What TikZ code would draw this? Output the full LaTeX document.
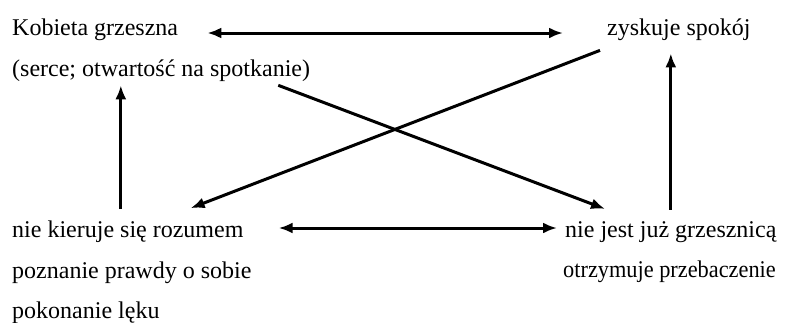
\documentclass[tikz,border=0pt]{standalone}
\usepackage{fontspec}
\setmainfont{Liberation Serif}
\usetikzlibrary{positioning,arrows.meta}

\begin{document}
\begin{tikzpicture}[x=1pt,y=-1pt,
  txt/.style={inner sep=0pt,font=\fontsize{24}{28}\selectfont},
  link/.style={line width=3pt,-{Latex[length=14pt,width=11pt]}},
  both/.style={line width=3pt,{Latex[length=14pt,width=11pt]}-{Latex[length=14pt,width=11pt]}}]
\useasboundingbox (0,0) rectangle (787,322);
\node[txt,anchor=base west] (kob) at (12,35) {Kobieta grzeszna};
\node[txt,below=41pt of kob.base west,anchor=base west] (serce) {(serce; otwartość na spotkanie)};
\node[txt,anchor=base west] (zys) at (607,35) {zyskuje spokój};
\node[txt,anchor=base west] (kier) at (12,237) {nie kieruje się rozumem};
\node[txt,below=41pt of kier.base west,anchor=base west] (pozn) {poznanie prawdy o sobie};
\node[txt,below=40pt of pozn.base west,anchor=base west] (lek) {pokonanie lęku};
\node[txt,anchor=base west] (njest) at (565,237) {nie jest już grzesznicą};
\node[txt,below=40pt of njest.base west,anchor=base west,xshift=-2pt] (przeb) {\scalebox{0.93}[1]{otrzymuje przebaczenie}};
\draw[both,shorten <=29pt,shorten >=44pt] ([yshift=2pt]kob.base east) -- ([yshift=2pt]zys.base west);
\draw[both,shorten <=35pt,shorten >=8pt] ([yshift=9pt]kier.base east) -- ([yshift=9pt]njest.base west);
\draw[link,shorten <=11pt,shorten >=4pt] ([xshift=-7pt]kier.north) -- ([xshift=-7pt]kier.north |- serce.south);
\draw[link,shorten <=11pt,shorten >=13pt] (njest.north) -- (njest.north |- zys.south);
\draw[link] ([xshift=-7pt,yshift=-10pt]zys.south west) -- ([xshift=-53pt,yshift=12pt]kier.north east);
\draw[link] ([xshift=-32pt,yshift=-4pt]serce.south east) -- ([xshift=40pt,yshift=12pt]njest.north west);
\end{tikzpicture}
\end{document}
